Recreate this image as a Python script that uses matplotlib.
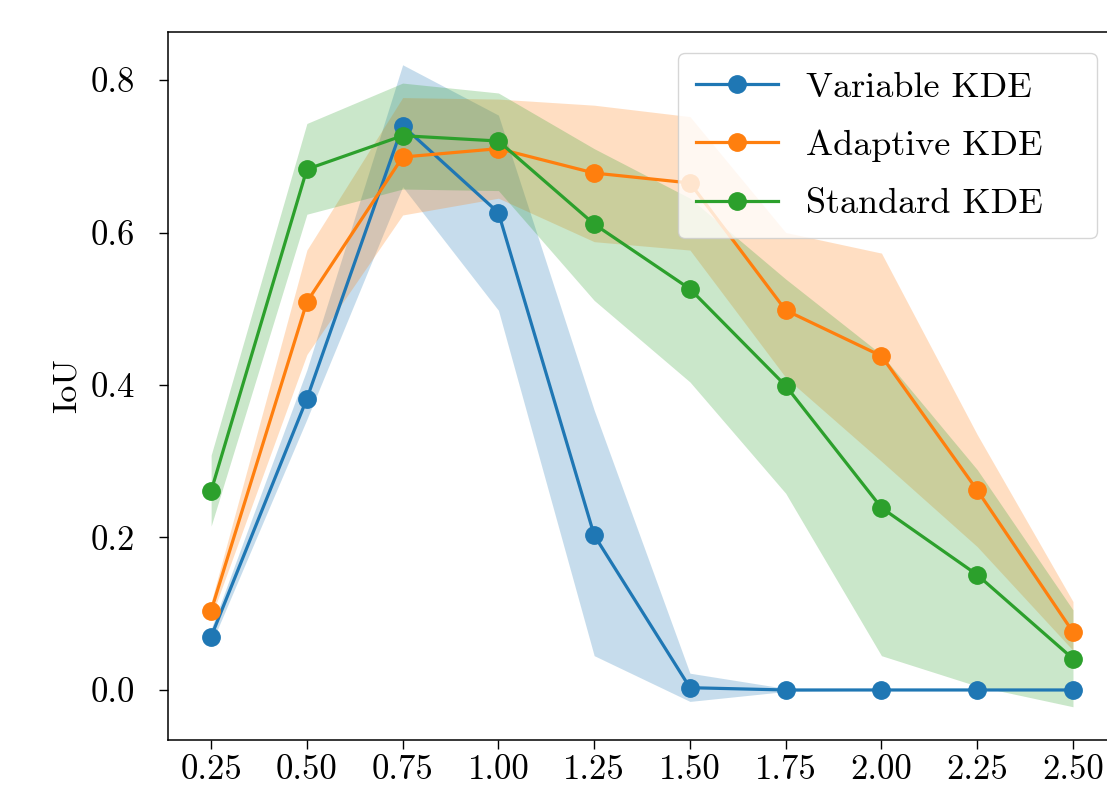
import numpy as np
import matplotlib
matplotlib.use("Agg")
import matplotlib.pyplot as plt

plt.rcParams['font.family'] = ['cmr10', 'DejaVu Serif']
plt.rcParams['mathtext.fontset'] = 'cm'
plt.rcParams['axes.formatter.use_mathtext'] = True

bandwidth = [0.25, 0.50, 0.75, 1.00, 1.25, 1.50, 1.75, 2.00, 2.25, 2.50]

# Variable KDE
var_mean = [0.070, 0.382, 0.740, 0.626, 0.203, 0.003, 0.000, 0.000, 0.000, 0.000]
var_low = [0.060, 0.355, 0.660, 0.498, 0.045, -0.015, -0.002, 0.000, 0.000, 0.000]
var_high = [0.080, 0.420, 0.820, 0.754, 0.367, 0.022, 0.002, 0.000, 0.000, 0.000]

# Adaptive KDE
ada_mean = [0.104, 0.509, 0.699, 0.710, 0.678, 0.665, 0.498, 0.438, 0.262, 0.076]
ada_low = [0.095, 0.440, 0.623, 0.645, 0.588, 0.577, 0.410, 0.300, 0.188, 0.052]
ada_high = [0.115, 0.577, 0.777, 0.775, 0.767, 0.752, 0.600, 0.573, 0.335, 0.116]

# Standard KDE
std_mean = [0.261, 0.683, 0.727, 0.720, 0.611, 0.526, 0.399, 0.239, 0.151, 0.041]
std_low = [0.215, 0.624, 0.657, 0.655, 0.511, 0.404, 0.258, 0.045, 0.005, -0.022]
std_high = [0.308, 0.743, 0.796, 0.783, 0.710, 0.645, 0.539, 0.440, 0.289, 0.105]

series = [
    ("Variable KDE", var_mean, var_low, var_high, "#1f77b4"),
    ("Adaptive KDE", ada_mean, ada_low, ada_high, "#ff7f0e"),
    ("Standard KDE", std_mean, std_low, std_high, "#2ca02c"),
]

fig = plt.figure(figsize=(11.07, 7.9), dpi=100)
ax = fig.add_axes([0.1518, 0.0633, 0.8564, 0.8962])

for name, mean, low, high, col in series:
    ax.plot(bandwidth, mean, '-o', color=col, lw=2.3, ms=12.5, label=name)
    ax.fill_between(bandwidth, low, high, color=col, alpha=0.25, lw=0)

ax.set_xlim(0.1375, 2.6125)
ax.set_ylim(-0.0656, 0.863)
ax.set_xticks(bandwidth)
ax.set_xticklabels(["%.2f" % b for b in bandwidth])
ax.set_yticks([0.0, 0.2, 0.4, 0.6, 0.8])
ax.set_yticklabels(["0.0", "0.2", "0.4", "0.6", "0.8"])
ax.tick_params(labelsize=25, length=6.5, width=1.0)
ax.tick_params(axis='y', pad=17.5)
ax.set_ylabel("IoU", fontsize=24.5, labelpad=6)
for s in ax.spines.values():
    s.set_linewidth(1.1)

# legend box is wider than its content in the original
ax.legend(loc='upper left', bbox_to_anchor=(0.538, 0.709, 0.442, 0.261),
          mode='expand', borderaxespad=0, fontsize=26, handlelength=2.28,
          handletextpad=0.75, labelspacing=0.72, borderpad=0.5)

fig.savefig("out.png", dpi=100)
